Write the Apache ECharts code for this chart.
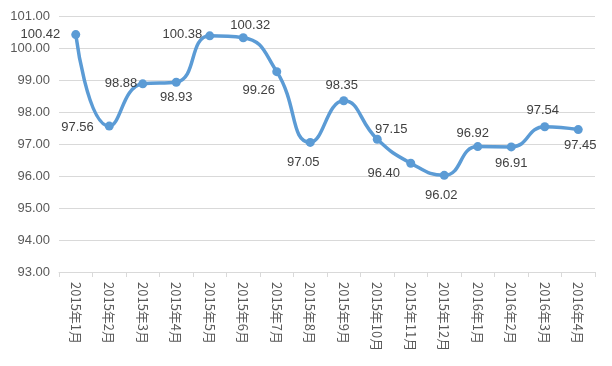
<!DOCTYPE html>
<html><head><meta charset="utf-8">
<script src="https://cdn.jsdelivr.net/npm/echarts@6/dist/echarts.min.js"></script>
<style>html,body{margin:0;padding:0;background:#fff}#c{width:612px;height:366px}</style>
</head><body><div id="c"></div>
<script>
const categories = ['2015年1月','2015年2月','2015年3月','2015年4月','2015年5月','2015年6月','2015年7月','2015年8月','2015年9月','2015年10月','2015年11月','2015年12月','2016年1月','2016年2月','2016年3月','2016年4月'];
const values = [100.42, 97.56, 98.88, 98.93, 100.38, 100.32, 99.26, 97.05, 98.35, 97.15, 96.40, 96.02, 96.92, 96.91, 97.54, 97.45];
const yTicks = {min: 93, max: 101, interval: 1};
// label placement (position, offset) for each point
const labelPos = [
  ['left',[-6,0]],['left',[-6,1]],['left',[4,0]],['bottom',[0,-1]],
  ['left',[2,-1]],['top',[7,4]],['bottom',[-18,3]],['bottom',[-7,4]],
  ['top',[-2,1]],['top',[14,6]],['bottom',[-27,-6]],['bottom',[-3,4]],
  ['top',[-5,3]],['bottom',[0,1]],['top',[-2,0]],['bottom',[2,0]]
];
const chart = echarts.init(document.getElementById('c'));
chart.setOption({
  animation: false,
  grid: {left: 59, right: 17, top: 16, bottom: 94},
  xAxis: {
    type: 'category', data: categories, boundaryGap: true,
    axisLine: {lineStyle: {color: '#d9d9d9'}},
    axisTick: {show: true, alignWithLabel: false, length: 5, lineStyle: {color: '#d9d9d9'}},
    axisLabel: {rotate: -90, color: '#595959', fontSize: 13, fontFamily: 'Noto Sans CJK SC', margin: 10, interval: 0}
  },
  yAxis: {
    type: 'value', min: yTicks.min, max: yTicks.max, interval: yTicks.interval,
    axisLine: {show: false}, axisTick: {show: false},
    splitLine: {lineStyle: {color: '#d9d9d9'}},
    axisLabel: {formatter: v => v.toFixed(2), color: '#595959', fontSize: 13, fontFamily: 'Liberation Sans', margin: 9}
  },
  series: [{
    type: 'line', smooth: 0.5,
    data: values.map((v, i) => ({
      value: v,
      label: {position: labelPos[i][0], offset: labelPos[i][1]}
    })),
    symbol: 'circle', symbolSize: 9,
    itemStyle: {color: '#5B9BD5'},
    lineStyle: {color: '#5B9BD5', width: 3.5},
    label: {show: true, formatter: p => p.value.toFixed(2), color: '#404040', fontSize: 13, fontFamily: 'Liberation Sans', distance: 5}
  }]
});
</script></body></html>
